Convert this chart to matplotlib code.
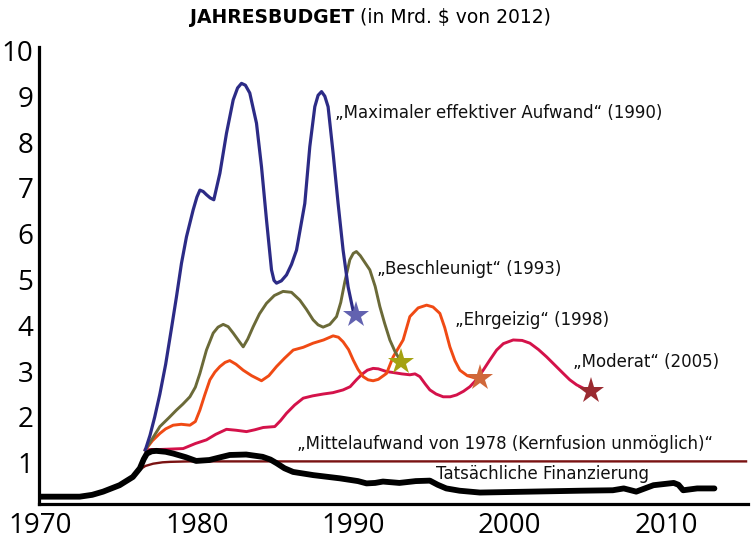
import matplotlib
matplotlib.use("Agg")
import matplotlib.pyplot as plt

# ---------------- data ----------------
x_ticks = [1970, 1980, 1990, 2000, 2010]
y_ticks = [1, 2, 3, 4, 5, 6, 7, 8, 9, 10]

blue_years = [1976.7, 1977.0, 1977.3, 1977.63, 1978.0, 1978.37, 1978.69, 1979.01, 1979.33, 1979.76,
              1980.0, 1980.19, 1980.4, 1980.61, 1980.85, 1981.08, 1981.47, 1981.89, 1982.32, 1982.6,
              1982.85, 1983.1, 1983.38, 1983.81, 1984.13, 1984.45, 1984.77, 1984.93, 1985.09, 1985.4,
              1985.73, 1986.05, 1986.37, 1986.9, 1987.22, 1987.54, 1987.75, 1987.97, 1988.18, 1988.39,
              1988.71, 1989.03, 1989.35, 1989.67, 1989.99, 1990.2]
blue_vals = [1.28, 1.6, 2.0, 2.5, 3.15, 3.93, 4.62, 5.35, 5.93, 6.52,
             6.8, 6.95, 6.92, 6.85, 6.78, 6.74, 7.32, 8.19, 8.92, 9.18,
             9.28, 9.24, 9.07, 8.41, 7.46, 6.3, 5.21, 4.98, 4.92, 4.97,
             5.1, 5.33, 5.64, 6.66, 7.9, 8.77, 9.02, 9.1, 9.0, 8.77,
             7.76, 6.66, 5.64, 4.84, 4.32, 4.22]

olive_years = [1976.7, 1977.1, 1977.63, 1978.2, 1978.69, 1979.1, 1979.55, 1979.9, 1980.19, 1980.61,
               1981.04, 1981.35, 1981.68, 1982.0, 1982.32, 1982.7, 1982.96, 1983.25, 1983.6, 1984.0,
               1984.45, 1984.95, 1985.51, 1986.05, 1986.58, 1987.0, 1987.43, 1987.75, 1988.07, 1988.5,
               1988.93, 1989.2, 1989.46, 1989.78, 1990.0, 1990.2, 1990.45, 1991.06, 1991.4, 1991.7,
               1992.0, 1992.34, 1992.68, 1993.05]
olive_vals = [1.28, 1.5, 1.79, 1.98, 2.15, 2.28, 2.44, 2.65, 2.95, 3.46,
              3.83, 3.96, 4.02, 3.97, 3.83, 3.65, 3.53, 3.7, 3.97, 4.25,
              4.48, 4.65, 4.74, 4.72, 4.55, 4.35, 4.12, 4.01, 3.96, 4.02,
              4.19, 4.5, 4.95, 5.43, 5.57, 5.61, 5.52, 5.21, 4.85, 4.41,
              4.05, 3.68, 3.42, 3.21]

orange_years = [1976.7, 1977.15, 1977.63, 1978.0, 1978.48, 1979.0, 1979.55, 1979.9, 1980.19, 1980.5,
                1980.83, 1981.15, 1981.47, 1981.8, 1982.1, 1982.5, 1982.96, 1983.5, 1984.13, 1984.6,
                1985.09, 1985.6, 1986.16, 1986.8, 1987.43, 1988.1, 1988.71, 1989.05, 1989.35, 1989.7,
                1990.0, 1990.3, 1990.63, 1990.95, 1991.27, 1991.6, 1992.13, 1992.55, 1993.19, 1993.62,
                1994.15, 1994.69, 1995.1, 1995.54, 1995.85, 1996.18, 1996.5, 1996.82, 1997.3, 1997.89,
                1998.1]
orange_vals = [1.28, 1.48, 1.64, 1.74, 1.82, 1.84, 1.82, 1.9, 2.15, 2.48,
               2.81, 2.98, 3.1, 3.19, 3.23, 3.15, 3.02, 2.9, 2.79, 2.9,
               3.1, 3.28, 3.46, 3.52, 3.61, 3.68, 3.77, 3.74, 3.64, 3.47,
               3.24, 3.04, 2.88, 2.81, 2.79, 2.82, 2.95, 3.31, 3.68, 4.19,
               4.38, 4.44, 4.4, 4.26, 3.95, 3.53, 3.23, 3.02, 2.9, 2.84,
               2.84]

crimson_years = [1976.7, 1977.1, 1977.63, 1978.4, 1979.12, 1979.9, 1980.61, 1981.2, 1981.89, 1982.5,
                 1983.17, 1983.7, 1984.24, 1984.98, 1985.35, 1985.73, 1986.25, 1986.8, 1987.4, 1988.07,
                 1988.7, 1989.35, 1989.8, 1990.2, 1990.55, 1990.9, 1991.27, 1991.6, 1992.13, 1992.55,
                 1993.1, 1993.62, 1993.95, 1994.26, 1994.6, 1994.9, 1995.3, 1995.75, 1996.2, 1996.61,
                 1997.05, 1997.46, 1997.9, 1998.31, 1998.75, 1999.17, 1999.6, 2000.23, 2000.8, 2001.3,
                 2001.85, 2002.37, 2002.9, 2003.43, 2003.85, 2004.29, 2004.7, 2005.2]
crimson_vals = [1.28, 1.29, 1.29, 1.3, 1.31, 1.42, 1.5, 1.62, 1.73, 1.71,
                1.68, 1.72, 1.77, 1.79, 1.92, 2.08, 2.26, 2.41, 2.46, 2.5,
                2.53, 2.59, 2.66, 2.81, 2.93, 3.02, 3.06, 3.05, 2.99, 2.97,
                2.94, 2.92, 2.94, 2.88, 2.72, 2.59, 2.5, 2.44, 2.44, 2.48,
                2.56, 2.66, 2.82, 3.02, 3.25, 3.46, 3.6, 3.68, 3.67, 3.61,
                3.47, 3.31, 3.13, 2.95, 2.81, 2.7, 2.63, 2.57]

level1978_years = [1976.3, 1976.7, 1977.2, 1977.8, 1978.3, 1979.5, 2015.2]
level1978_vals = [0.84, 0.93, 0.98, 1.01, 1.02, 1.03, 1.03]

actual_years = [1969.95, 1972.5, 1973.3, 1974.0, 1975.05, 1975.9, 1976.35, 1976.6, 1976.8, 1977.1,
                1977.4, 1978.0, 1978.5, 1979.3, 1979.95, 1980.8, 1981.5, 1982.1, 1983.15, 1984.2,
                1984.7, 1985.1, 1985.6, 1986.15, 1987.45, 1989.15, 1990.3, 1990.85, 1991.4, 1991.9,
                1992.95, 1994.0, 1994.9, 1995.4, 1995.95, 1996.8, 1998.1, 2001.3, 2004.5, 2006.6,
                2007.3, 2008.1, 2009.2, 2010.5, 2010.8, 2011.1, 2012.0, 2013.1]
actual_vals = [0.26, 0.26, 0.3, 0.37, 0.51, 0.69, 0.88, 1.08, 1.2, 1.25,
               1.26, 1.24, 1.2, 1.12, 1.04, 1.06, 1.12, 1.17, 1.18, 1.13,
               1.07, 0.99, 0.88, 0.8, 0.73, 0.66, 0.6, 0.55, 0.56, 0.59,
               0.56, 0.6, 0.61, 0.52, 0.44, 0.39, 0.35, 0.37, 0.39, 0.40,
               0.44, 0.37, 0.51, 0.56, 0.52, 0.40, 0.44, 0.44]

label_max = "\u201eMaximaler effektiver Aufwand\u201c (1990)"
label_besch = "\u201eBeschleunigt\u201c (1993)"
label_ehr = "\u201eEhrgeizig\u201c (1998)"
label_mod = "\u201eModerat\u201c (2005)"
label_mittel = "\u201eMittelaufwand von 1978 (Kernfusion unm\u00f6glich)\u201c"
label_actual = "Tats\u00e4chliche Finanzierung"
title_bold = "JAHRESBUDGET"
title_rest = " (in Mrd. \\$ von 2012)"

# ---------------- figure ----------------
fig = plt.figure(figsize=(7.52, 5.42), dpi=100)
ax = fig.add_axes([0.0519, 0.0701, 0.9428, 0.8437])
ax.set_xlim(1969.9, 2015.25)
ax.set_ylim(0.1, 10.08)

lw = 2.1
ax.plot(level1978_years, level1978_vals, color="#7a1212", lw=1.7, zorder=2,
        solid_capstyle="butt")
ax.plot(crimson_years, crimson_vals, color="#d4124a", lw=lw, zorder=3,
        solid_joinstyle="round")
ax.plot(orange_years, orange_vals, color="#f04a14", lw=lw, zorder=4,
        solid_joinstyle="round")
ax.plot(olive_years, olive_vals, color="#6b6a38", lw=lw, zorder=5,
        solid_joinstyle="round")
ax.plot(blue_years, blue_vals, color="#2c2b86", lw=2.3, zorder=6,
        solid_joinstyle="round")
ax.plot(actual_years, actual_vals, color="black", lw=4.2, zorder=7,
        solid_joinstyle="round", solid_capstyle="round")

# stars at the ends of the scenario curves
star_kw = dict(marker="*", markersize=20, markeredgewidth=0, zorder=9)
ax.plot(blue_years[-1], blue_vals[-1], color="#6262b0", **star_kw)
ax.plot(olive_years[-1], olive_vals[-1], color="#a4a212", **star_kw)
ax.plot(orange_years[-1], orange_vals[-1], color="#d0683a", **star_kw)
ax.plot(crimson_years[-1], crimson_vals[-1], color="#9a2a30", **star_kw)

# labels
lab_kw = dict(fontsize=12, family="DejaVu Sans", color="#111111",
              ha="left", va="center", zorder=10)
ax.text(1988.82, 8.64, label_max, **lab_kw)
ax.text(1991.49, 5.23, label_besch, **lab_kw)
ax.text(1996.5, 4.12, label_ehr, **lab_kw)
ax.text(2004.03, 3.21, label_mod, **lab_kw)
ax.text(1986.37, 1.41, label_mittel, **lab_kw)
ax.text(1995.28, 0.76, label_actual, **lab_kw)

# axes styling
for s in ["top", "right"]:
    ax.spines[s].set_visible(False)
for s in ["left", "bottom"]:
    ax.spines[s].set_linewidth(2.3)
    ax.spines[s].set_color("black")
ax.set_xticks(x_ticks)
ax.set_yticks(y_ticks)
ax.set_xticklabels([str(v) for v in x_ticks], fontsize=20, family="Open Sans")
ax.set_yticklabels([str(v) for v in y_ticks], fontsize=20, family="Open Sans")
ax.tick_params(axis="both", length=0)
ax.tick_params(axis="x", pad=6)
ax.tick_params(axis="y", pad=4)

# title: bold part + normal part
t1 = fig.text(0.2527, 0.967, title_bold, fontsize=13.5, fontweight="bold",
              family="DejaVu Sans", ha="left", va="center")
ax.annotate(title_rest, xy=(1, 0), xycoords=t1, fontsize=13.5,
            family="DejaVu Sans", ha="left", va="bottom", annotation_clip=False)

fig.savefig("out.png", dpi=100)
